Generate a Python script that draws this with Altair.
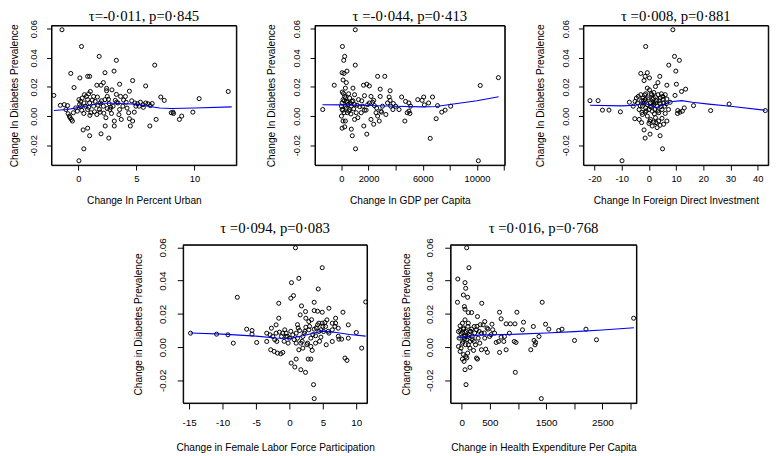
import altair as alt
import pandas as pd

# ---------------- data ----------------
urban_x = [-1.4, 0.28, 1.8, 3.28, 6.58, 3.08, 2.3, -0.64, 0.81, 0.98,
           0.14, 4.68, 2.16, -0.36, -2.1, 12.9, 10.4, 7.1, 7.4, 5.8,
           1.6, 1.96, 2.44, 3.56, 4.4, 2.44, 2.9, 3.28, 4.06, 3.64,
           4.87, 5.35, 5.8, 6.2, 5.24, 8.15, 8.0, 8.2, 9.86, 8.9,
           8.7, 6.7, 6.16, 4.68, 4.48, 3.7, 3.1, 3.1, 2.32, 0.42,
           0.81, 0.98, 1.96, 2.63, 0.48, 0.06, -0.59, -0.5, -0.7, -0.92,
           -1.2, -1.54, -1.06, -0.42, -0.22, -0.08, 0.11, 0.2, 0.34, 0.53,
           0.7, 0.81, 0.98, 0.62, 0.81, 0.48, 1.09, 1.32, 1.46, 1.65,
           1.88, 1.82, 1.6, 2.16, 2.3, 2.5, 2.66, 2.72, 2.86, 3.0,
           3.42, 3.56, 3.84, 4.12, 4.34, 4.82, 4.4, 4.96, 1.88, 1.32,
           1.04, 0.9, -0.87, -0.76, 2.5, 3.19, 5.57, 6.36, 2.38, 0.06,
           0.3, 0.5, 0.9, 1.2, 1.4, 1.7, 2.0, 2.2, 2.6, 2.8,
           3.3, 3.5, 3.9, 4.2, 4.6, 5.1, 5.6, 6.0, 1.0, 0.2]
urban_y = [0.0593, 0.0478, 0.041, 0.0383, 0.035, 0.0309, 0.0298, 0.0293, 0.0273, 0.0273,
           0.0262, 0.0244, 0.023, 0.0196, 0.0142, 0.0169, 0.012, 0.0131, 0.0108, 0.0207,
           0.0212, 0.0212, 0.0174, 0.0219, 0.0171, 0.019, 0.018, 0.0149, 0.0135, 0.0135,
           0.009, 0.0095, 0.009, 0.0072, 0.0068, 0.0027, 0.0023, 0.0018, 0.0027, 0.0,
           -0.0023, -0.0023, -0.0068, -0.0034, -0.0068, -0.0023, -0.0034, -0.0068, -0.0068, -0.0095,
           -0.0083, -0.0135, -0.0122, -0.0151, -0.0225, -0.0307, -0.0023, -0.0034, -0.0011, 0.0072,
           0.0079, 0.0074, 0.0045, 0.0023, 0.0056, 0.0034, 0.0079, 0.0101, 0.0124, 0.0147,
           0.0135, 0.0113, 0.009, 0.0068, 0.0045, 0.0018, 0.0023, 0.0068, 0.0101, 0.0131,
           0.009, 0.0045, 0.0011, 0.0068, 0.0113, 0.0135, 0.0086, 0.0045, 0.0018, 0.0068,
           0.009, 0.0045, 0.0068, 0.0095, 0.0023, 0.0027, -0.0018, 0.0068, 0.0027, 0.0135,
           0.0169, 0.0153, 0.0016, 0.0, 0.0052, 0.0108, 0.0079, 0.0086, -0.0011, 0.0113,
           0.004, 0.009, 0.006, 0.011, 0.003, 0.0075, 0.0105, 0.002, 0.0115, 0.006,
           0.0095, 0.001, 0.011, 0.0055, 0.0105, 0.0085, 0.006, 0.0085, 0.0005, 0.0065]
urban_fit_x = [-2.1, -1, 0, 1, 2, 3, 4, 5, 6, 7, 8, 10, 13.2]
urban_fit_y = [0.0038, 0.0045, 0.0058, 0.0075, 0.0088, 0.0088, 0.0085, 0.0082, 0.0068, 0.0056, 0.0052, 0.0056, 0.0063]

gdp_x = [1020, 73, 240, 170, 1020, 410, 50, 190, 2670, 3200,
         120, 360, -530, -1380, 11580, 10240, 1630, 1870, 2060, 2860,
         3590, 850, 290, 530, 970, 1700, 2180, 2860, 3520, 4440,
         6070, 5630, 5950, 6720, 6430, 6120, 4980, 4730, 4250, 4850,
         4980, 5050, 4680, 7090, 7400, 7650, 8060, 6990, 6550, 10100,
         1040, 800, 1650, 1870, 730, 240, 50, 120, 290, 970,
         1090, 1210, 1460, 1820, 2180, 2380, 2550, 2670, 2790, 2430,
         3030, 3280, 2960, 2060, 2380, 1260, 970, 730, 610, 440,
         190, 50, 0, 50, 120, 240, 360, 490, 610, 780,
         0, 290, 3640, 3830, 4000, 5100, 3590, 2910, 1580, 1940,
         100, 200, 300, 350, 450, 550, 650, 700, 850, 900,
         1150, 1350, 1500, 1700, 2300, 2600, 3400, 3800, 150, 60]
gdp_y = [0.0593, 0.0478, 0.041, 0.0383, 0.035, 0.0309, 0.0298, 0.0293, 0.0273, 0.0273,
         0.0248, 0.023, 0.0212, 0.0045, 0.0264, 0.021, 0.0212, 0.0219, 0.0207, 0.0185,
         0.0174, 0.0192, 0.0192, 0.0153, 0.0147, 0.014, 0.0135, 0.0135, 0.0131, 0.0131,
         0.0131, 0.0113, 0.0108, 0.0131, 0.009, 0.0077, 0.009, 0.0101, 0.0045, 0.0023,
         0.0034, 0.0018, -0.0034, 0.0072, 0.0027, 0.0041, 0.0068, -0.0018, -0.0153, -0.0307,
         -0.0225, -0.0135, -0.0068, -0.0124, -0.009, -0.0074, -0.0083, -0.0034, -0.0034, -0.0023,
         0.0023, -0.0011, 0.0023, 0.0041, -0.0023, -0.0056, 0.0023, 0.0, -0.0034, 0.0072,
         0.0068, 0.0011, 0.0027, 0.009, 0.0108, 0.0113, 0.0079, 0.0068, 0.0045, 0.0023,
         0.0023, 0.0045, 0.0068, 0.009, 0.0113, 0.0135, 0.0101, 0.0079, 0.0124, 0.0101,
         0.0, 0.0068, 0.0068, 0.0086, 0.0068, 0.0068, 0.0108, 0.0034, 0.0068, 0.0079,
         0.004, 0.0105, 0.0125, 0.0055, 0.0095, 0.0035, 0.009, 0.0015, 0.0105, 0.005,
         0.0075, 0.0065, 0.0105, 0.004, 0.0095, 0.0055, 0.009, 0.0045, 0.0155, 0.0165]
gdp_fit_x = [-1400, 0, 2000, 4000, 6000, 7000, 8000, 10000, 11600]
gdp_fit_y = [0.0078, 0.0077, 0.0073, 0.0068, 0.0063, 0.0066, 0.0080, 0.0105, 0.0133]

fdi_x = [8.8, -1.2, 9.4, 11.2, 7.3, 9.9, -3.0, -0.6, 0.2, -1.4,
         4.0, -1.8, 3.3, 6.6, 10.1, 13.5, 12.0, -21.7, -18.7, -17.1,
         -14.7, -10.5, -9.9, -7.2, -5.8, -5.2, -2.7, -1.8, -1.4, 0.4,
         4.1, 5.0, 5.4, 4.1, 3.0, 6.6, 10.5, 10.6, 12.3, 13.0,
         16.4, 22.7, 29.5, 42.8, 9.6, 6.6, 6.0, 5.4, 7.8, 6.0,
         4.8, 3.6, 2.4, 1.8, 0.6, -0.6, -1.4, -2.4, -3.6, -4.2,
         -3.9, -3.0, -2.2, -1.2, -0.6, 0.2, 1.0, 1.8, 2.4, 1.4,
         2.4, 3.4, 4.2, 4.6, 5.1, 4.2, 3.0, 1.8, 0.6, -0.6,
         -1.8, -2.4, -1.2, 0.0, 1.2, 2.2, 1.0, -0.2, -1.4, -2.7,
         -5.1, -4.6, 0.0, 1.2, 3.6, -3.6, 7.2, 11.4, 2.4, 5.8,
         -2.0, -1.0, -0.3, 0.5, 1.5, 2.0, 2.8, 3.3, 4.4, 5.2,
         -3.2, -2.6, 0.8, 1.6, 3.8, -1.6, 6.4, 0.3, 2.6, 4.8]
fdi_y = [0.0593, 0.0478, 0.041, 0.0383, 0.035, 0.0309, 0.0293, 0.0298, 0.0262, 0.0273,
         0.0273, 0.0244, 0.023, 0.0212, 0.0219, 0.0185, 0.0169, 0.0106, 0.0106, 0.0041,
         0.0041, 0.0029, -0.0307, 0.0095, 0.0068, -0.0018, -0.0045, -0.0095, -0.0151, -0.0124,
         -0.0135, -0.0225, -0.0056, -0.0063, -0.0079, -0.0034, 0.0018, 0.0038, 0.0034, 0.0056,
         0.0072, 0.0038, 0.0083, 0.0038, 0.0142, 0.0117, 0.0147, 0.009, 0.0095, 0.0018,
         0.0045, 0.0023, -0.0011, -0.0041, -0.0023, 0.0, 0.0027, 0.0011, 0.0045, 0.009,
         0.0135, 0.0147, 0.0124, 0.0153, 0.0192, 0.018, 0.0147, 0.0162, 0.0203, 0.0113,
         0.0131, 0.0147, 0.0124, 0.0153, 0.0135, 0.0086, 0.0068, 0.0079, 0.009, 0.0079,
         0.009, 0.0068, 0.0056, 0.0045, 0.0034, 0.0045, 0.0068, 0.0113, 0.0113, 0.0106,
         0.0101, 0.0124, -0.005, -0.0068, -0.0034, -0.0023, 0.0045, 0.0027, 0.009, 0.0068,
         0.0105, 0.0035, 0.0125, 0.0065, 0.0095, 0.0015, 0.0105, 0.0035, 0.0065, 0.0115,
         0.007, 0.0025, 0.0155, 0.0125, 0.0105, 0.0145, 0.0085, -0.0035, -0.0045, -0.0015]
fdi_fit_x = [-21.7, -10, -5, -2, 0, 2.5, 5, 8, 12, 16, 22, 30, 42.8]
fdi_fit_y = [0.0074, 0.0070, 0.0075, 0.0088, 0.0078, 0.0058, 0.0075, 0.0098, 0.0106, 0.0095, 0.0082, 0.0068, 0.0040]

flfp_x = [0.9, 4.9, 1.4, 0.3, 4.3, -7.8, 0.6, 0.2, -1.6, 3.7,
          11.4, 1.8, 5.9, 2.4, 3.7, 4.2, 4.9, 8.0, -1.6, 2.45,
          6.9, 8.8, 1.6, 2.9, 4.4, 5.3, 6.9, 7.3, -6.4, -5.6,
          -5.6, -14.8, -10.9, -9.2, -8.4, -4.9, -3.4, -2.7, -2.0, -3.4,
          -2.8, -2.3, -1.8, -1.3, -1.0, -1.9, -1.2, -0.7, -0.5, -0.2,
          0.5, 1.0, 1.5, 1.2, 1.7, 1.4, 1.0, 0.25, 0.8, 1.7,
          2.4, 2.8, 3.2, 3.4, 3.6, 3.7, 2.7, 3.2, 3.9, 4.4,
          4.7, 5.1, 5.5, 6.4, 7.4, 7.8, 8.8, 10.0, 10.8, 8.3,
          8.6, 2.9, 2.2, 2.0, 2.45, 3.7, 4.2, 5.4, 5.9, 6.4,
          0.0, -0.5, -1.0, -2.0, -2.5, -2.9, 1.0, 2.0, 3.2, 3.9,
          4.7, 4.9, 5.6, 6.4,
          -2.2, -1.5, -0.8, 0.2, 0.7, 1.3, 1.9, 2.3, 2.6, 3.0,
          3.5, 4.0, 4.5, 5.0, 5.8, 6.8, 7.3, 3.3, 1.2, -0.3]
flfp_y = [0.0598, 0.0478, 0.0414, 0.0388, 0.035, 0.030, 0.031, 0.0294, 0.0264, 0.027,
          0.0272, 0.0248, 0.0234, 0.0214, 0.022, 0.0216, 0.021, 0.021, 0.0174, 0.0174,
          0.0174, 0.0134, 0.0194, 0.0154, 0.0144, 0.0148, 0.0144, 0.0114, 0.0108, 0.010,
          0.0078, 0.0084, 0.0078, 0.0074, 0.0024, 0.0028, 0.0084, 0.0114, 0.0134, 0.0034,
          -0.0016, -0.0026, -0.0036, -0.004, -0.0032, 0.0034, 0.0064, 0.0104, 0.0084, 0.0024,
          0.0074, 0.0084, 0.010, 0.0054, 0.0024, -0.0016, -0.0072, -0.0096, -0.012, -0.0136,
          -0.0152, -0.0072, -0.0072, -0.002, -0.0226, -0.031, 0.0024, 0.0054, 0.0068, 0.0094,
          0.006, 0.0094, 0.0014, 0.0034, 0.0048, 0.0048, 0.0054, 0.0088, -0.0006, -0.0066,
          -0.008, 0.0104, 0.0084, 0.0064, 0.012, 0.0108, 0.0134, 0.0124, 0.0084, 0.0104,
          0.0054, 0.0064, 0.0084, 0.0084, 0.0064, 0.0074, 0.0024, -0.0006, 0.0004, 0.0024,
          0.0104, 0.0144, 0.0164, 0.0144,
          0.0045, 0.009, 0.0035, 0.0095, 0.0045, 0.0115, 0.0035, 0.0095, 0.0015, 0.0125,
          0.0075, 0.0115, 0.0035, 0.0125, 0.0095, 0.0125, 0.0065, 0.0165, 0.0135, 0.0065]
flfp_fit_x = [-14.8, -10, -5, -2, 0, 2, 4, 5, 7, 9, 11.4]
flfp_fit_y = [0.0085, 0.0078, 0.0066, 0.0055, 0.0052, 0.0068, 0.0088, 0.0096, 0.0088, 0.0076, 0.0066]

health_x = [88, 128, -70, 58, 70, 29, 105, -76, 1430, 356,
            47, 58, 117, 175, 280, 672, 981, 700, 789, 864,
            946, 1098, 1273, 1490, 1548, 1723, 1782, 2208, 3055, 2004,
            2395, 380, 467, 537, 409, 350, 292, 222, 245, 350,
            426, 456, 263, 280, 146, 58, 76, 12, 41, 70,
            105, -29, -12, 12, -47, -12, -29, 29, 58, 105,
            146, 175, 222, 263, 117, 58, 12, -29, -58, 146,
            654, 613, 748, 672, 789, 934, 964, 952, 1414, 1227,
            1285, 1314, 1302, 1373, 1080, 847, 759, 700, 584, 496,
            409, 321, 187, 12, 70, 47, 117, -58, 210, 146,
            20, 35, 45, 65, 80, 95, 110, 130, 160, 190,
            230, 270, 310, 330, 400, 450, 520, 550, 30, 90]
health_y = [0.0598, 0.0478, 0.041, 0.0388, 0.0354, 0.0314, 0.030, 0.027, 0.027, 0.0264,
            0.0244, 0.0228, 0.0208, 0.0208, 0.0184, 0.021, 0.021, 0.017, 0.014, 0.014,
            0.014, 0.015, 0.0124, 0.0138, 0.0108, 0.010, 0.0108, 0.0108, 0.0174, 0.004,
            0.0044, 0.0134, 0.0108, 0.0138, 0.0154, 0.0084, 0.0054, 0.0034, 0.0014, -0.0016,
            -0.0012, -0.0032, -0.0066, -0.0072, -0.0122, -0.0136, -0.0226, -0.0072, -0.0086, -0.0056,
            -0.0036, -0.0026, -0.0006, 0.0024, 0.0054, 0.008, 0.010, 0.0108, 0.0088, 0.0064,
            0.0034, 0.0108, 0.0124, 0.0104, 0.0144, 0.0164, 0.0144, 0.0128, 0.0094, 0.0094,
            0.0034, 0.0028, 0.0034, -0.0032, -0.0016, 0.0034, 0.0028, -0.0152, -0.031, -0.0016,
            0.004, 0.0028, 0.0014, 0.0064, 0.0104, 0.0084, 0.0064, 0.006, 0.0084, 0.0064,
            0.0054, 0.0024, 0.0064, 0.0088, 0.0068, 0.0048, 0.0014, 0.0004, -0.002, -0.0006,
            0.0035, 0.0115, 0.0065, 0.0015, 0.0095, 0.0045, 0.0125, 0.0075, 0.0095, 0.0045,
            0.0085, 0.0125, 0.0095, 0.0135, 0.0085, 0.0115, 0.0075, 0.0105, -0.0045, -0.0065]
health_fit_x = [-70, 0, 150, 300, 600, 1000, 1500, 2000, 2500, 3060]
health_fit_y = [0.0055, 0.006, 0.0066, 0.0072, 0.0074, 0.0078, 0.0085, 0.0093, 0.0103, 0.0117]

titles = ["\u03c4=-0\u00b7011, p=0\u00b7845", "\u03c4 =-0\u00b7044, p=0\u00b7413",
          "\u03c4 =0\u00b7008, p=0\u00b7881", "\u03c4 =0\u00b7094, p=0\u00b7083",
          "\u03c4 =0\u00b7016, p=0\u00b7768"]
x_titles = ["Change In Percent Urban", "Change In GDP per Capita",
            "Change In Foreign Direct Investment",
            "Change in Female Labor Force Participation",
            "Change in Health Expenditure Per Capita"]
y_titles = ["Change In Diabetes Prevalence", "Change in Diabetes Prevalence"]
x_ticks = [[0, 5, 10],
           [0, 2000, 4000, 6000, 8000, 10000, 12000],
           [-20, -10, 0, 10, 20, 30, 40],
           [-15, -10, -5, 0, 5, 10],
           [0, 500, 1000, 1500, 2000, 2500, 3000]]
x_hidden = [[], [4000, 8000, 12000], [], [], [1000, 2000, 3000]]
y_ticks = [-0.02, 0.0, 0.02, 0.04, 0.06]

SANS = "Liberation Sans"
SERIF = "Liberation Serif"


def xlabel_expr(hidden):
    base = "(datum.value < 0 ? '-' + format(-datum.value, 'd') : format(datum.value, 'd'))"
    if hidden:
        return "indexof(%s, datum.value) >= 0 ? '' : %s" % (str(hidden), base)
    return base


YLABEL = "datum.value < -0.0001 ? '-' + format(-datum.value, '.2f') : format(abs(datum.value), '.2f')"


def panel(xs, ys, fx, fy, i, xdom, w, h, row):
    if row == 0:
        ydom = [-0.0337, 0.0622]
        tick, ylp, ytx, xlp, xty, lfs, toff = 5, 13.5, -44, 9, 36.5, 9.5, -16
        ytitle = y_titles[0]
    else:
        ydom = [-0.0337, 0.0616]
        tick, ylp, ytx, xlp, xty, lfs, toff = 6, 15.3, -45, 14, 45, 10, -10
        ytitle = y_titles[1]
    if i == 0:
        ytx = -38
    xaxis = alt.Axis(values=x_ticks[i], title=x_titles[i], labelExpr=xlabel_expr(x_hidden[i]),
                     domain=False, grid=False, tickSize=tick, tickColor="black", tickWidth=1,
                     labelFont=SANS, labelFontSize=lfs, labelColor="black",
                     labelBaseline="middle", labelAlign="center", labelPadding=xlp,
                     labelOverlap=False, labelFlush=False,
                     titleFont=SANS, titleFontSize=10.3, titleFontWeight="normal",
                     titleColor="black", titleBaseline="middle", titleAlign="center",
                     titleX=w / 2, titleY=xty)
    yaxis = alt.Axis(values=y_ticks, title=ytitle, labelExpr=YLABEL,
                     domain=False, grid=False, tickSize=tick, tickColor="black", tickWidth=1,
                     labelFont=SANS, labelFontSize=lfs, labelColor="black",
                     labelAngle=270, labelBaseline="middle", labelAlign="center",
                     labelPadding=ylp, labelOverlap=False, labelFlush=False,
                     titleFont=SANS, titleFontSize=10.3, titleFontWeight="normal",
                     titleColor="black", titleAngle=270, titleBaseline="middle",
                     titleAlign="center", titleX=ytx, titleY=h / 2)
    xs_ = alt.Scale(domain=xdom, nice=False, zero=False)
    ys_ = alt.Scale(domain=ydom, nice=False, zero=False)
    # plot-area box (R's box()), drawn as a stroked rectangle over the whole panel
    frame = alt.Chart(pd.DataFrame({"box": [1]})).mark_rect(
        fill="white", fillOpacity=0, stroke="black", strokeWidth=1
    ).encode(x=alt.value(0), x2=alt.value(w), y=alt.value(0), y2=alt.value(h))
    pts = alt.Chart(pd.DataFrame({"x": xs, "y": ys})).mark_point(
        shape="circle", filled=False, color="black", size=17, strokeWidth=1, opacity=1
    ).encode(x=alt.X("x:Q", scale=xs_, axis=xaxis), y=alt.Y("y:Q", scale=ys_, axis=yaxis))
    fit = alt.Chart(pd.DataFrame({"x": fx, "y": fy})).mark_line(
        color="#0000ee", strokeWidth=1.1
    ).encode(x=alt.X("x:Q", scale=xs_, axis=xaxis), y=alt.Y("y:Q", scale=ys_, axis=yaxis))
    return alt.layer(pts, fit, frame).properties(
        width=w, height=h,
        title=alt.TitleParams(titles[i], font=SERIF, fontSize=15, fontWeight="normal",
                              color="black", anchor="middle", frame="group",
                              offset=toff, baseline="alphabetic"))


p1 = panel(urban_x, urban_y, urban_fit_x, urban_fit_y, 0, [-2.3, 13.6], 188, 142, 0)
p2 = panel(gdp_x, gdp_y, gdp_fit_x, gdp_fit_y, 1, [-1950, 12050], 193, 142, 0)
p3 = panel(fdi_x, fdi_y, fdi_fit_x, fdi_fit_y, 2, [-24.1, 43.9], 188, 142, 0)
p4 = panel(flfp_x, flfp_y, flfp_fit_x, flfp_fit_y, 3, [-15.9, 11.6], 187, 161, 1)
p5 = panel(health_x, health_y, health_fit_x, health_fit_y, 4, [-198, 3105], 189, 161, 1)

top = alt.hconcat(p1, p2, p3, spacing=80, bounds="flush")
bottom = alt.hconcat(p4, p5, spacing=85, bounds="flush")

chart = alt.vconcat(top, bottom, spacing=13, center=True).properties(
    padding={"left": 0, "top": -4, "right": 0, "bottom": 0},
    background="white",
).configure_view(stroke="black", strokeWidth=1)

chart.save("out.html", embed_options={"renderer": "svg", "actions": False})
